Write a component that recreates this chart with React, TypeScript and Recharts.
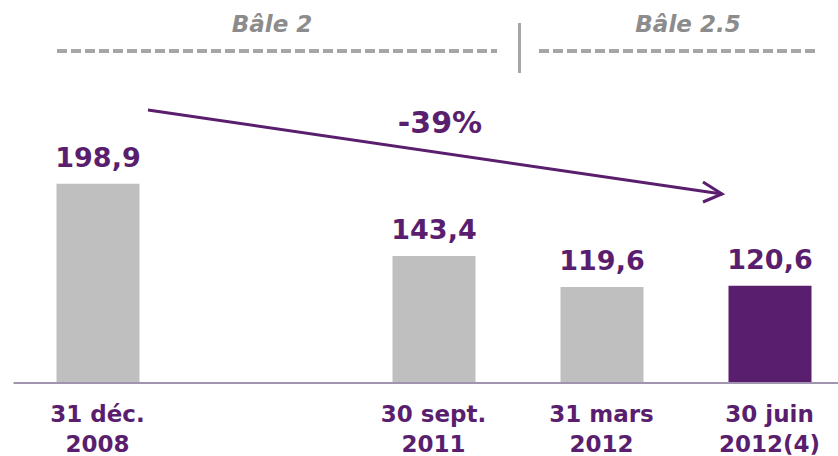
import React from "react";
import { BarChart, Bar, XAxis, YAxis, Cell, LabelList } from "recharts";

const categories = ["31 déc.|2008", "", "30 sept.|2011", "31 mars|2012", "30 juin|2012(4)"];
const values: (number | null)[] = [198.9, null, 143.4, 119.6, 120.6];
const valueLabels = ["198,9", "", "143,4", "119,6", "120,6"];
const highlight = [false, false, false, false, true];
const periodLabels = ["Bâle 2", "Bâle 2.5"];
const changeLabel = "-39%";

const PURPLE = "#5A1E6E";
const GRAY_BAR = "#BFBFBF";
const FONT = "'DejaVu Sans', Verdana, sans-serif";

const data = categories.map((c, i) => ({
  name: c,
  value: values[i],
  label: valueLabels[i],
  hl: highlight[i],
}));

const Tick = (props: any) => {
  const { x, y, payload } = props;
  const lines = String(payload.value || "").split("|");
  if (!payload.value) return null;
  return (
    <text x={x} y={y} textAnchor="middle" fill={PURPLE} fontFamily={FONT} fontWeight="bold" fontSize={23}>
      {lines.map((l, i) => (
        <tspan key={i} x={x} y={y + 31 + i * 30}>
          {l}
        </tspan>
      ))}
    </text>
  );
};

const ValueLabel = (props: any) => {
  const { x, y, width, value } = props;
  if (!value) return null;
  return (
    <text x={x + width / 2} y={y - 17} textAnchor="middle" fill={PURPLE} fontFamily={FONT} fontWeight="bold" fontSize={27}>
      {value}
    </text>
  );
};

export default function App() {
  return (
    <div style={{ position: "absolute", left: 0, top: 0, width: 838, height: 456, background: "#fff" }}>
      <BarChart
        width={838}
        height={456}
        data={data}
        margin={{ top: 100, right: -15.5, bottom: 0, left: 13.5 }}
        barCategoryGap={0}
      >
        <XAxis
          dataKey="name"
          axisLine={{ stroke: "#A194AE", strokeWidth: 2 }}
          tickLine={false}
          tick={<Tick />}
          interval={0}
          height={73}
        />
        <YAxis hide domain={[46.1, 263]} type="number" allowDataOverflow />
        <Bar dataKey="value" barSize={83} isAnimationActive={false}>
          {data.map((d, i) => (
            <Cell key={i} fill={d.hl ? PURPLE : GRAY_BAR} />
          ))}
          <LabelList dataKey="label" content={<ValueLabel />} />
        </Bar>
      </BarChart>
      <svg width={838} height={456} style={{ position: "absolute", left: 0, top: 0, pointerEvents: "none" }}>
        <text x={272} y={32} textAnchor="middle" fill="#8C8C8C" fontFamily={FONT} fontWeight="bold" fontStyle="italic" fontSize={23}>
          {periodLabels[0]}
        </text>
        <text x={688} y={32} textAnchor="middle" fill="#8C8C8C" fontFamily={FONT} fontWeight="bold" fontStyle="italic" fontSize={23}>
          {periodLabels[1]}
        </text>
        <line x1={57} y1={51} x2={497} y2={51} stroke="#A6A6A6" strokeWidth={4} strokeDasharray="10 4" />
        <line x1={539} y1={51} x2={816} y2={51} stroke="#A6A6A6" strokeWidth={4} strokeDasharray="10 4" />
        <line x1={519.5} y1={23} x2={519.5} y2={73} stroke="#A6A6A6" strokeWidth={3} />
        <line x1={148} y1={110} x2={722} y2={194} stroke={PURPLE} strokeWidth={3} />
        <polyline points="703,182 722,194 703,202" fill="none" stroke={PURPLE} strokeWidth={3} />
        <text x={440} y={133} textAnchor="middle" fill={PURPLE} fontFamily={FONT} fontWeight="bold" fontSize={30}>
          {changeLabel}
        </text>
      </svg>
    </div>
  );
}
